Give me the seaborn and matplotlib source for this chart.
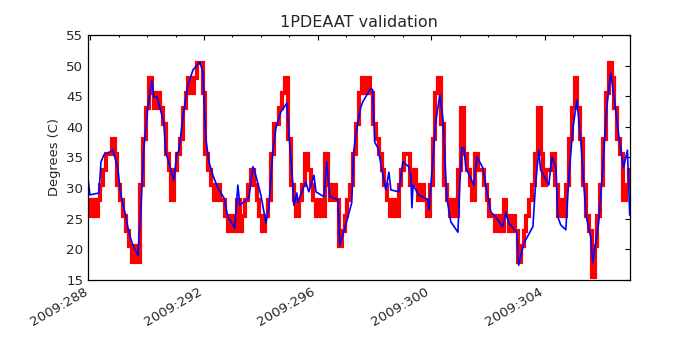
import numpy as np
import pandas as pd
import matplotlib
matplotlib.use("Agg")
import matplotlib.pyplot as plt
import seaborn as sns
from matplotlib.ticker import MultipleLocator, FuncFormatter

# ---- data (day of year 2009) ----
red_start = 287.9
red_step = 0.1
red_vals = [
    28, 25.5, 28, 25.5, 28, 30.5, 33, 35.5, 35.5, 38,
    35.5, 30.5, 28, 25.5, 23, 20.5, 18, 20.5, 18, 30.5,
    38, 43, 48, 45.5, 43, 45.5, 43, 40.5, 35.5, 33,
    28, 33, 35.5, 38, 43, 45.5, 48, 45.5, 48, 50.5,
    50.5, 45.5, 35.5, 33, 30.5, 28, 30.5, 28, 28, 25.5,
    23, 25.5, 23, 28, 23, 25.5, 28, 30.5, 33, 30.5,
    28, 25.5, 23, 25.5, 28, 35.5, 40.5, 40.5, 43, 45.5,
    48, 38, 30.5, 28, 25.5, 28, 30.5, 35.5, 33, 30.5,
    28, 25.5, 28, 25.5, 35.5, 30.5, 28, 30.5, 28, 20.5,
    23, 25.5, 28, 30.5, 35.5, 40.5, 45.5, 48, 45.5, 48,
    45.5, 40.5, 38, 35.5, 33, 30.5, 28, 25.5, 28, 25.5,
    30.5, 33, 35.5, 35.5, 30.5, 33, 30.5, 28, 30.5, 28,
    25.5, 30.5, 38, 45.5, 48, 40.5, 30.5, 28, 25.5, 28,
    25.5, 33, 43, 35.5, 33, 30.5, 28, 35.5, 33, 33,
    30.5, 28, 25.5, 25.5, 23, 25.5, 23, 28, 25.5, 23,
    25.5, 23, 18, 20.5, 23, 25.5, 28, 30.5, 35.5, 43,
    35.5, 30.5, 33, 33, 35.5, 30.5, 25.5, 28, 25.5, 30.5,
    38, 43, 48, 43, 38, 30.5, 25.5, 23, 15.5, 20.5,
    25.5, 30.5, 38, 45.5, 50.5, 48, 43, 38, 35.5, 28,
    30.5, 33,
]

blue_t = [
    287.92, 287.98, 288.30, 288.37, 288.47, 288.79, 288.96, 289.07, 289.25, 289.35,
    289.49, 289.67, 289.77, 289.88, 290.02, 290.16, 290.23, 290.34, 290.58, 290.65,
    290.83, 290.94, 291.04, 291.11, 291.25, 291.43, 291.61, 291.85, 291.96, 292.06,
    292.17, 292.31, 292.49, 292.70, 292.84, 293.08, 293.19, 293.26, 293.58, 293.72,
    293.79, 294.00, 294.18, 294.28, 294.42, 294.53, 294.70, 294.92, 294.99, 295.13,
    295.16, 295.27, 295.30, 295.58, 295.69, 295.87, 295.94, 296.22, 296.32, 296.43,
    296.71, 296.78, 296.99, 297.20, 297.27, 297.34, 297.52, 297.59, 297.87, 297.94,
    298.01, 298.12, 298.30, 298.40, 298.51, 298.58, 298.86, 299.00, 299.21, 299.28,
    299.32, 299.36, 299.56, 299.88, 299.92, 300.06, 300.16, 300.30, 300.41, 300.55,
    300.69, 300.94, 301.01, 301.08, 301.15, 301.22, 301.50, 301.61, 301.82, 301.92,
    302.10, 302.27, 302.52, 302.63, 302.73, 303.01, 303.08, 303.26, 303.58, 303.68,
    303.79, 303.85, 304.14, 304.25, 304.39, 304.46, 304.56, 304.74, 304.85, 304.99,
    305.13, 305.27, 305.45, 305.62, 305.69, 305.90, 306.04, 306.18, 306.32, 306.46,
    306.60, 306.77, 306.91, 306.99,
]
blue_v = [
    31.3, 28.9, 29.2, 34.3, 35.4, 36.2, 33.3, 28.9, 25.3, 22.8,
    20.7, 19.0, 26.1, 36.6, 43.1, 47.6, 44.9, 44.9, 40.8, 35.9,
    33.0, 31.3, 35.7, 36.0, 41.4, 46.8, 49.3, 50.6, 48.9, 38.2,
    34.3, 32.1, 30.0, 28.4, 25.3, 23.5, 30.5, 27.2, 28.4, 33.5,
    32.6, 28.9, 24.3, 26.8, 35.9, 39.8, 42.4, 43.9, 38.7, 30.5,
    27.2, 29.2, 27.7, 31.0, 29.4, 32.1, 29.4, 28.6, 34.3, 28.6,
    28.1, 20.7, 24.0, 27.6, 35.9, 38.7, 43.2, 44.1, 46.3, 46.0,
    37.5, 36.6, 32.1, 29.7, 32.6, 29.7, 29.4, 34.3, 33.5, 32.1,
    26.8, 30.5, 28.9, 28.1, 26.4, 34.9, 40.8, 45.2, 41.4, 28.4,
    24.5, 22.8, 31.0, 36.6, 36.6, 33.3, 30.5, 35.1, 33.3, 30.5,
    26.1, 25.3, 23.7, 26.1, 24.3, 22.8, 17.4, 21.0, 23.7, 31.0,
    36.2, 33.0, 30.5, 35.1, 33.3, 25.3, 24.0, 23.2, 32.1, 39.8,
    44.4, 37.5, 25.6, 21.9, 17.8, 24.5, 33.3, 43.1, 48.8, 44.1,
    38.7, 33.3, 36.2, 25.6,
]

title = "1PDEAAT validation"
ylabel = "Degrees (C)"
year = 2009

# ---- plotting ----
red_t = red_start + red_step * np.arange(len(red_vals))
red_df = pd.DataFrame({"t": red_t, "v": red_vals})
blue_df = pd.DataFrame({"t": blue_t, "v": blue_v})

sns.set_style("white")
plt.rcParams["font.family"] = ["DejaVu Sans"]

fig, ax = plt.subplots(figsize=(7, 3.5), dpi=100)
fig.subplots_adjust(left=0.126, right=0.9, top=0.9, bottom=0.2)

sns.lineplot(data=red_df, x="t", y="v", color="red", lw=3.0,
             drawstyle="steps-mid", estimator=None, sort=False, ax=ax,
             solid_joinstyle="miter", solid_capstyle="butt")
sns.lineplot(data=blue_df, x="t", y="v", color="blue", lw=1.2,
             estimator=None, sort=False, ax=ax)

ax.set_xlim(287.92, 307.0)
ax.set_ylim(15, 55)
ax.xaxis.set_major_locator(MultipleLocator(4))
ax.xaxis.set_minor_locator(MultipleLocator(1))
ax.yaxis.set_major_locator(MultipleLocator(5))
ax.xaxis.set_major_formatter(FuncFormatter(lambda v, p: f"{year}:{int(round(v)):03d}"))

ax.tick_params(which="both", direction="in", top=True, right=True,
               labelsize=9.6, color="black")
ax.tick_params(which="major", length=3.3, width=0.8)
ax.tick_params(which="minor", length=1.6, width=0.8)
for s in ax.spines.values():
    s.set_visible(True)
    s.set_color("black")
    s.set_linewidth(0.9)

plt.setp(ax.get_xticklabels(), rotation=30, ha="right")
ax.set_xlabel("")
ax.set_ylabel(ylabel, fontsize=9.4)
ax.set_title(title, fontsize=11.5)

fig.savefig("out.png", dpi=100, facecolor="white")
